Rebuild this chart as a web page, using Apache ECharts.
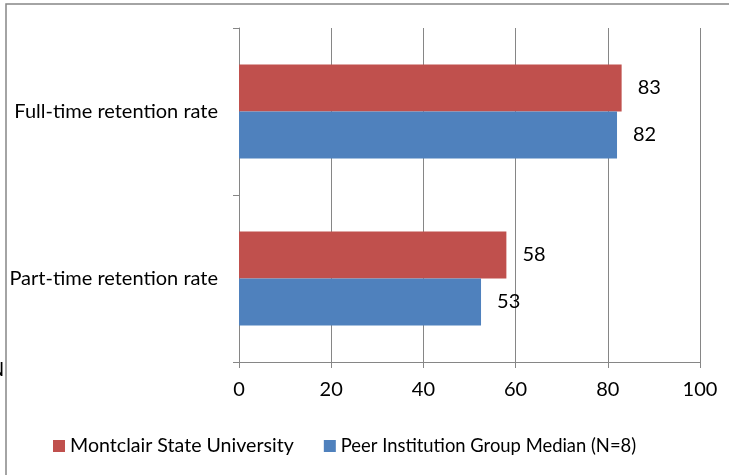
<!DOCTYPE html>
<html>
<head>
<meta charset="utf-8">
<script src="https://cdn.jsdelivr.net/npm/echarts@6/dist/echarts.min.js"></script>
<style>html,body{margin:0;padding:0;background:#fff;}#c{width:729px;height:475px;}</style>
</head>
<body>
<div id="c"></div>
<script>
var categories = ['Full-time retention rate', 'Part-time retention rate'];
var montclair = [83, 58];
var peer = [82, 52.5];
var seriesNames = ['Montclair State University', 'Peer Institution Group Median (N=8)'];
var xTicks = [0, 20, 40, 60, 80, 100];

var FONT = 'Lato';
var FS = 20;
var chart = echarts.init(document.getElementById('c'));
var lbl = {
  show: true, position: 'right', distance: 16, color: '#000', fontSize: FS, fontFamily: FONT,
  formatter: function (p) { return Math.round(p.value); }
};
chart.setOption({
  animation: false,
  textStyle: { fontFamily: FONT },
  graphic: [
    { type: 'rect', shape: { x: 6, y: 4, width: 800, height: 600 }, style: { fill: 'none', stroke: '#878787', lineWidth: 1.5 } },
    { type: 'text', left: -11, top: 360, style: { text: 'N', fontSize: FS, fontFamily: FONT, fill: '#000' } }
  ],
  grid: { left: 239, right: 29, top: 28, bottom: 113 },
  legend: {
    left: 48, top: 431, icon: 'rect', itemWidth: 12, itemHeight: 12, itemGap: 30,
    textStyle: { fontSize: FS, color: '#000', fontFamily: FONT },
    data: [
      { name: seriesNames[0], textStyle: { fontSize: 19.6 } },
      { name: seriesNames[1], textStyle: { fontSize: 18.4 } }
    ]
  },
  xAxis: {
    type: 'value', min: xTicks[0], max: xTicks[xTicks.length - 1], interval: 20,
    axisLine: { show: true, lineStyle: { color: '#868686', width: 1 } },
    axisTick: { show: true, length: 6, lineStyle: { color: '#868686' } },
    splitLine: { show: true, lineStyle: { color: '#868686', width: 1 } },
    axisLabel: { color: '#000', fontSize: FS, fontFamily: FONT, margin: 18 }
  },
  yAxis: {
    type: 'category', data: categories, inverse: true,
    axisLine: { show: true, lineStyle: { color: '#868686', width: 1 } },
    axisTick: { show: true, length: 6, lineStyle: { color: '#868686' } },
    axisLabel: { color: '#000', fontSize: FS, fontFamily: FONT, margin: 21 }
  },
  series: [
    { name: seriesNames[0], type: 'bar', data: montclair, barWidth: 47, barGap: '0%', itemStyle: { color: '#C0504D' }, label: lbl },
    { name: seriesNames[1], type: 'bar', data: peer, barWidth: 47, barGap: '0%', itemStyle: { color: '#4F81BD' }, label: lbl }
  ]
});
</script>
</body>
</html>
